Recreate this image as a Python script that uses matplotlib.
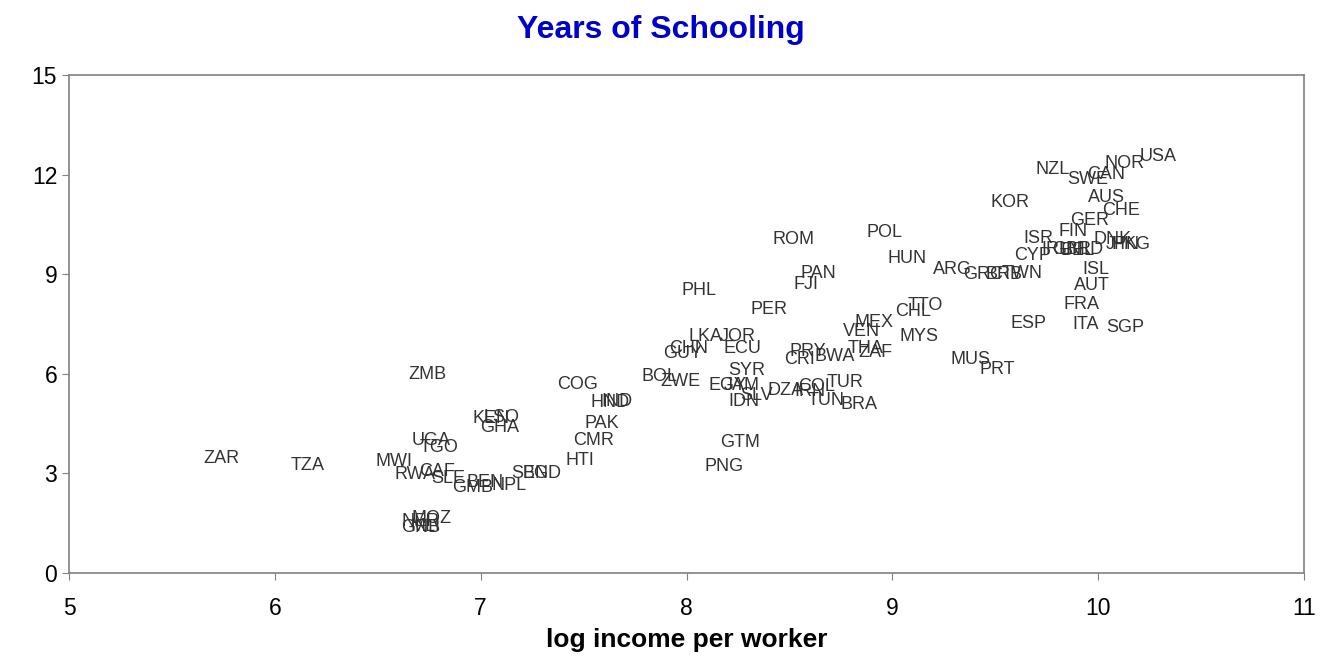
import matplotlib.pyplot as plt

plt.rcParams['font.family'] = ['Liberation Sans', 'DejaVu Sans']

# country codes, log income per worker, years of schooling
countries = ['ZAR', 'TZA', 'ZMB', 'MWI', 'UGA', 'TGO', 'RWA', 'CAF', 'SLE', 'BEN',
             'GMB', 'NPL', 'MOZ', 'NER', 'GNB', 'MLI', 'KEN', 'LSO', 'GHA', 'COG',
             'HND', 'IND', 'PAK', 'CMR', 'HTI', 'SEN', 'BGD', 'BOL', 'ZWE', 'GTM',
             'PNG', 'PHL', 'PER', 'ROM', 'PAN', 'FJI', 'POL', 'HUN', 'KOR', 'NZL',
             'SWE', 'CAN', 'NOR', 'USA', 'AUS', 'CHE', 'GER', 'FIN', 'ISR', 'IRL',
             'GBR', 'BEL', 'NLD', 'DNK', 'JPN', 'HKG', 'CYP', 'ARG', 'GRC', 'BRB',
             'TWN', 'ISL', 'AUT', 'FRA', 'ITA', 'SGP', 'ESP', 'MUS', 'PRT', 'MYS',
             'TTO', 'CHL', 'MEX', 'VEN', 'THA', 'ZAF', 'PRY', 'CRI', 'BWA', 'LKA',
             'JOR', 'CHN', 'GUY', 'ECU', 'SYR', 'EGY', 'JAM', 'IDN', 'SLV', 'DZA',
             'IRN', 'COL', 'TUR', 'TUN', 'BRA']

log_income = [5.74, 6.16, 6.74, 6.58, 6.76, 6.80, 6.68, 6.79, 6.84, 7.02,
              6.96, 7.14, 6.76, 6.71, 6.71, 6.73, 7.05, 7.10, 7.09, 7.47,
              7.63, 7.66, 7.59, 7.55, 7.48, 7.24, 7.30, 7.87, 7.97, 8.26,
              8.18, 8.06, 8.40, 8.52, 8.64, 8.58, 8.96, 9.07, 9.57, 9.78,
              9.95, 10.04, 10.13, 10.29, 10.04, 10.11, 9.96, 9.88, 9.71, 9.79,
              9.87, 9.90, 9.94, 10.07, 10.12, 10.16, 9.68, 9.29, 9.44, 9.54,
              9.63, 9.99, 9.97, 9.92, 9.94, 10.13, 9.66, 9.38, 9.51, 9.13,
              9.16, 9.10, 8.91, 8.85, 8.87, 8.92, 8.59, 8.55, 8.72, 8.09,
              8.25, 8.01, 7.98, 8.27, 8.29, 8.20, 8.27, 8.28, 8.34, 8.48,
              8.60, 8.63, 8.77, 8.68, 8.84]

schooling = [3.46, 3.25, 5.99, 3.37, 3.98, 3.77, 2.98, 3.07, 2.86, 2.74,
             2.59, 2.65, 1.63, 1.54, 1.36, 1.40, 4.64, 4.67, 4.37, 5.69,
             5.15, 5.18, 4.49, 3.98, 3.40, 3.01, 3.01, 5.93, 5.78, 3.92,
             3.22, 8.52, 7.95, 10.03, 9.01, 8.70, 10.27, 9.46, 11.17, 12.14,
             11.84, 11.99, 12.32, 12.53, 11.30, 10.93, 10.63, 10.30, 10.09, 9.73,
             9.73, 9.70, 9.73, 10.03, 9.90, 9.88, 9.55, 9.13, 8.98, 9.00,
             9.03, 9.13, 8.67, 8.10, 7.47, 7.38, 7.53, 6.42, 6.14, 7.11,
             8.07, 7.89, 7.56, 7.26, 6.75, 6.63, 6.66, 6.42, 6.51, 7.11,
             7.11, 6.75, 6.60, 6.75, 6.11, 5.66, 5.66, 5.18, 5.35, 5.51,
             5.48, 5.63, 5.75, 5.21, 5.09]

fig = plt.figure(figsize=(13.22, 6.56), dpi=100)
ax = fig.add_axes([0.0522, 0.1265, 0.9342, 0.7592])

for name, x, y in zip(countries, log_income, schooling):
    ax.text(x, y, name, ha='center', va='center', fontsize=13, color='#333333')

ax.set_xlim(5, 11)
ax.set_ylim(0, 15)
ax.set_xticks([5, 6, 7, 8, 9, 10, 11])
ax.set_yticks([0, 3, 6, 9, 12, 15])
ax.tick_params(axis='both', labelsize=16.5, direction='out', length=5, color='#808080')
ax.tick_params(axis='x', pad=12)
for s in ax.spines.values():
    s.set_color('#808080')
    s.set_linewidth(1.2)

ax.set_xlabel('log income per worker', fontsize=19, fontweight='bold', labelpad=6)
fig.text(0.5, 0.955, 'Years of Schooling', ha='center', va='center',
         fontsize=23, fontweight='bold', color='#0000cc')

plt.savefig('out.png', dpi=100)
